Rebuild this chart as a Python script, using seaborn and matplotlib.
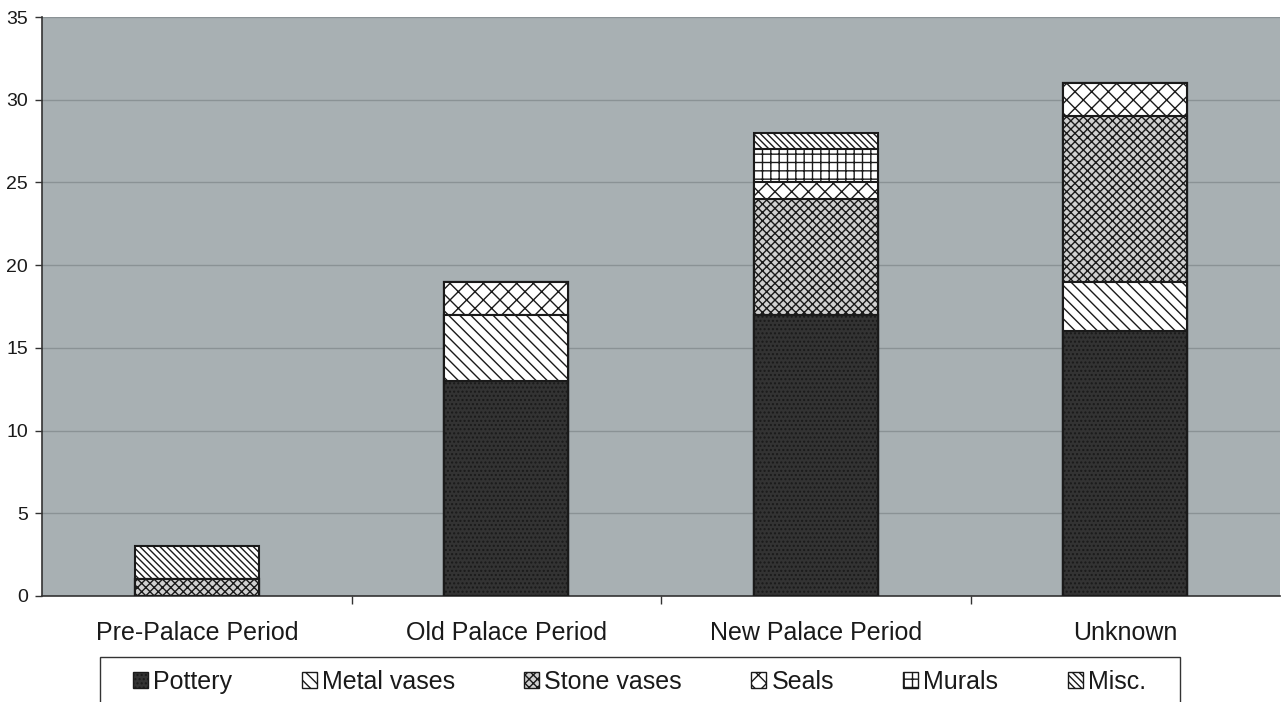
import numpy as np
import pandas as pd
import matplotlib
matplotlib.use("Agg")
import matplotlib.pyplot as plt
from matplotlib.patches import Patch, Rectangle
import seaborn as sns

# Finds per period, stacked by type
periods = ["Pre-Palace Period", "Old Palace Period", "New Palace Period", "Unknown"]
pottery = [0, 13, 17, 16]
metal_vases = [0, 4, 0, 3]
stone_vases = [1, 0, 7, 10]
seals = [0, 2, 1, 2]
murals = [0, 0, 2, 0]
misc = [2, 0, 1, 0]

series_names = ["Pottery", "Metal vases", "Stone vases", "Seals", "Murals", "Misc."]
series_values = [pottery, metal_vases, stone_vases, seals, murals, misc]
y_ticks = [0, 5, 10, 15, 20, 25, 30, 35]

styles = {
    "Pottery": dict(facecolor="#333333", hatch="...."),
    "Metal vases": dict(facecolor="white", hatch="\\\\\\"),
    "Stone vases": dict(facecolor="#d0d0d0", hatch="xxxx"),
    "Seals": dict(facecolor="white", hatch="xx"),
    "Murals": dict(facecolor="white", hatch="++"),
    "Misc.": dict(facecolor="white", hatch="\\\\\\\\\\"),
}

W, H = 1284, 702
sns.set_theme(style="white")
plt.rcParams["font.family"] = ["Liberation Sans", "DejaVu Sans"]
plt.rcParams["text.color"] = "#1a1a1a"
plt.rcParams["xtick.color"] = "#1a1a1a"
plt.rcParams["ytick.color"] = "#1a1a1a"
plt.rcParams["hatch.linewidth"] = 1.0
plt.rcParams["hatch.color"] = "#1a1a1a"

fig = plt.figure(figsize=(W / 100, H / 100), dpi=100, facecolor="white")
ax = fig.add_axes([42 / W, 1 - 596 / H, 1 - 42 / W - 4 / W, (596 - 17) / H])
ax.set_facecolor("#a8b0b3")

# Stacked bars: draw cumulative totals from the top layer downwards
cum = np.cumsum(np.array(series_values), axis=0)
for name, totals in reversed(list(zip(series_names, cum))):
    df = pd.DataFrame({"period": periods, "value": totals})
    st = styles[name]
    sns.barplot(data=df, x="period", y="value", order=periods, ax=ax,
                color=st["facecolor"], saturation=1, width=0.4,
                hatch=st["hatch"], edgecolor="#1a1a1a", linewidth=1.5,
                errorbar=None, zorder=3)

ax.set_xlim(-0.5, 3.5)
ax.set_ylim(0, 35)
ax.set_yticks(y_ticks)
ax.set_yticklabels([str(t) for t in y_ticks], fontsize=14)
ax.yaxis.grid(True, color="#8a9295", linewidth=1.0, zorder=0)
ax.set_axisbelow(True)

ax.set_xticks(range(len(periods)))
ax.set_xticklabels(periods, fontsize=18)
ax.set_xticks([0.5, 1.5, 2.5], minor=True)
ax.tick_params(axis="x", which="major", length=0, pad=18)
ax.tick_params(axis="x", which="minor", length=6, width=1, color="#333333", bottom=True)
ax.tick_params(axis="y", length=5, width=1, color="#333333", left=True, pad=5)
ax.set_xlabel("")
ax.set_ylabel("")

for side in ["top", "right"]:
    ax.spines[side].set_visible(False)
for side in ["left", "bottom"]:
    ax.spines[side].set_color("#333333")
    ax.spines[side].set_linewidth(1.2)

# Legend box running off the bottom edge
fig.patches.append(Rectangle((100 / W, -0.05), 1080 / W, 0.05 + (H - 657) / H,
                             transform=fig.transFigure, facecolor="white",
                             edgecolor="#333333", linewidth=1.0, zorder=1))

handles = [Patch(facecolor=styles[n]["facecolor"], hatch=styles[n]["hatch"],
                 edgecolor="#1a1a1a", linewidth=1.0, label=n) for n in series_names]
leg = fig.legend(handles=handles, loc="upper left", ncol=6,
                 bbox_to_anchor=(133 / W, 1 - 670 / H - 0.1, 1013 / W, 0.1),
                 mode="expand", fontsize=18, frameon=False,
                 handlelength=0.6, handleheight=0.6, handletextpad=0.2,
                 borderpad=0, borderaxespad=0)
leg.set_zorder(2)

fig.savefig("out.png", dpi=100, facecolor="white")
